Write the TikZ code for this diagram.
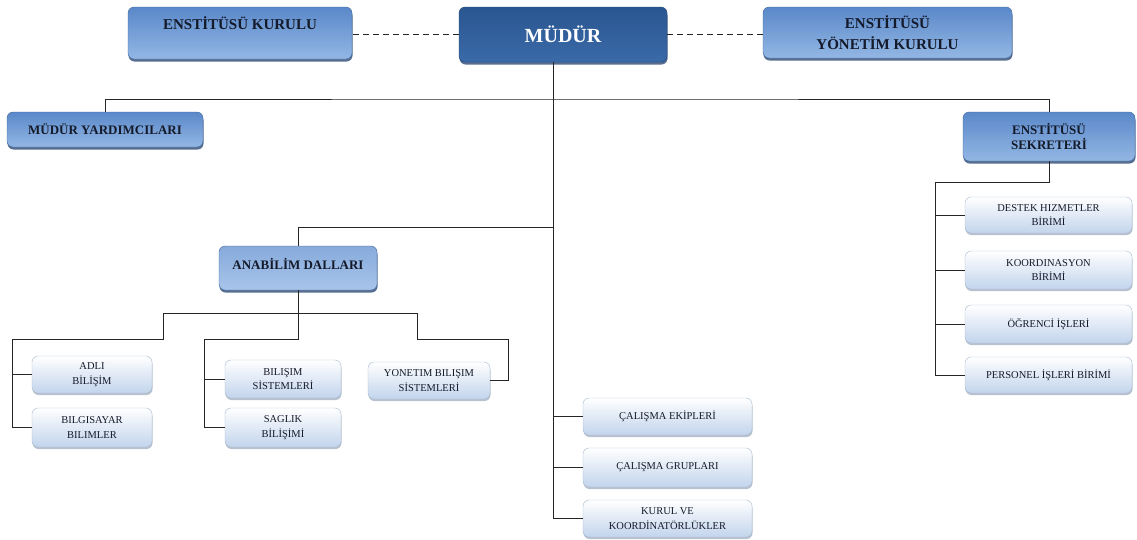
\documentclass[tikz,border=0pt]{standalone}
\usepackage{fontspec}
\setmainfont{Liberation Serif}
\usetikzlibrary{shadows}
\definecolor{bluetop}{HTML}{5A88C9}
\definecolor{bluebot}{HTML}{93B7E4}
\definecolor{bluedraw}{HTML}{41679F}
\definecolor{blueshade}{HTML}{2D4A75}
\definecolor{headtop}{HTML}{2A5690}
\definecolor{headbot}{HTML}{3A6AA8}
\definecolor{labtop}{HTML}{86AADB}
\definecolor{labbot}{HTML}{A8C5EB}
\definecolor{leafbot}{HTML}{C2D4EC}
\definecolor{leafdraw}{HTML}{A9BAD0}
\definecolor{leafshade}{HTML}{9AA8BA}
\definecolor{ink}{HTML}{141A2A}
\begin{document}
\begin{tikzpicture}[x=1pt,y=-1pt]
          \tikzstyle{every node}=[rounded corners=6pt,align=center,inner sep=2pt];
          \tikzstyle{bluebox}=[draw=bluedraw,top color=bluetop,bottom color=bluebot,text=ink,
            drop shadow={shadow xshift=0.5pt,shadow yshift=-2.5pt,fill=blueshade,opacity=0.8}];
          \tikzstyle{leafbox}=[draw=leafdraw,top color=white,bottom color=leafbot,text=ink,
            font=\fontsize{10.5}{14.5}\selectfont,
            drop shadow={shadow xshift=0.5pt,shadow yshift=-2pt,fill=leafshade,opacity=0.7}];
          \tikzstyle{link}=[line width=0.9pt,black!85];
          \tikzstyle{dashlink}=[line width=1.9pt,black!85,dash pattern=on 6pt off 4pt];
          \useasboundingbox (0,0) rectangle (1137,539);
          %top row
          \node[bluebox,minimum width=224pt,minimum height=52pt,text depth=20pt,
            font=\bfseries\fontsize{15}{17}\selectfont] (kurul) at (240,33) {ENSTİTÜSÜ KURULU};
          \node[bluebox,top color=headtop,bottom color=headbot,draw=headtop!80!black,text=white,
            minimum width=208pt,minimum height=55pt,
            font=\bfseries\fontsize{20}{22}\selectfont] (mudur) at (563,34.5) {MÜDÜR};
          \node[bluebox,minimum width=249pt,minimum height=51pt,
            font=\bfseries\fontsize{15}{21}\selectfont] (ykurul) at (887.5,32.5) {ENSTİTÜSÜ\\YÖNETİM KURULU};
          \node[bluebox,minimum width=196pt,minimum height=35pt,
            font=\bfseries\fontsize{13}{15}\selectfont] (yard) at (105,129.5) {MÜDÜR YARDIMCILARI};
          \node[bluebox,minimum width=172pt,minimum height=49pt,
            font=\bfseries\fontsize{13}{15}\selectfont] (sekr) at (1049,136.5) {ENSTİTÜSÜ\\SEKRETERİ};
          \node[bluebox,top color=labtop,bottom color=labbot,minimum width=158pt,minimum height=44pt,
            text depth=8pt,font=\bfseries\fontsize{13}{15}\selectfont] (anabilim) at (298,268) {ANABİLİM DALLARI};
          %anabilim dallari
          \node[leafbox,minimum width=120pt,minimum height=37pt] (adli) at (92,374.5) {ADLI\\BİLİŞİM};
          \node[leafbox,minimum width=120pt,minimum height=39pt] (bilg) at (92,427.5) {BILGISAYAR\\BILIMLER};
          \node[leafbox,minimum width=116pt,minimum height=38pt] (bsis) at (283,379) {BILIŞIM\\SİSTEMLERİ};
          \node[leafbox,minimum width=116pt,minimum height=39pt] (saglik) at (283,427.5) {SAGLIK\\BİLİŞİMİ};
          \node[leafbox,minimum width=122pt,minimum height=37pt] (ybs) at (429,380.5) {YONETIM BILIŞIM\\SİSTEMLERİ};
          %under mudur
          \node[leafbox,minimum width=169pt,minimum height=37pt] (ekip) at (667.5,416.5) {ÇALIŞMA EKİPLERİ};
          \node[leafbox,minimum width=169pt,minimum height=39pt] (grup) at (667.5,467.5) {ÇALIŞMA GRUPLARI};
          \node[leafbox,minimum width=169pt,minimum height=37pt] (kurulk) at (667.5,518.5) {KURUL VE\\KOORDİNATÖRLÜKLER};
          %under sekreter
          \node[leafbox,minimum width=167pt,minimum height=36pt] (destek) at (1048.5,215) {DESTEK HIZMETLER\\BİRİMİ};
          \node[leafbox,minimum width=167pt,minimum height=38pt] (koord) at (1048.5,270) {KOORDINASYON\\BİRİMİ};
          \node[leafbox,minimum width=167pt,minimum height=38pt] (ogr) at (1048.5,324) {ÖĞRENCİ İŞLERİ};
          \node[leafbox,minimum width=167pt,minimum height=36pt] (pers) at (1048.5,375) {PERSONEL İŞLERİ BİRİMİ};
          %bus points
          \coordinate (bus) at (553,99);
          \coordinate (abus) at (298,227);
          \coordinate (lbus) at (163,313);
          \coordinate (rbus) at (417,313);
          \coordinate (lleaf) at (12,339);
          \coordinate (mleaf) at (204,339);
          \coordinate (rleaf) at (508,339);
          \coordinate (sbus) at (935,182);
          %lines
          \draw[dashlink] (mudur.west) -- (mudur.west -| kurul.east);
          \draw[dashlink] (mudur.east) -- (mudur.east -| ykurul.west);
          \draw[link] (mudur.south -| bus) |- (kurulk.west);
          \draw[link] (bus |- ekip.west) -- (ekip.west);
          \draw[link] (bus |- grup.west) -- (grup.west);
          \draw[link] (yard.north) |- (bus) -| (sekr.north);
          \draw[link] (bus |- abus) -- (abus) -- (anabilim.north);
          \draw[link] (anabilim.south) |- (mleaf) |- (saglik.west);
          \draw[link] (mleaf |- bsis.west) -- (bsis.west);
          \draw[link] (lbus) -- (rbus);
          \draw[link] (lbus) |- (lleaf) |- (bilg.west);
          \draw[link] (lleaf |- adli.west) -- (adli.west);
          \draw[link] (rbus) |- (rleaf) |- (ybs.east);
          \draw[link] (sekr.south) |- (sbus) |- (pers.west);
          \draw[link] (sbus |- destek.west) -- (destek.west);
          \draw[link] (sbus |- koord.west) -- (koord.west);
          \draw[link] (sbus |- ogr.west) -- (ogr.west);
\end{tikzpicture}
\end{document}
